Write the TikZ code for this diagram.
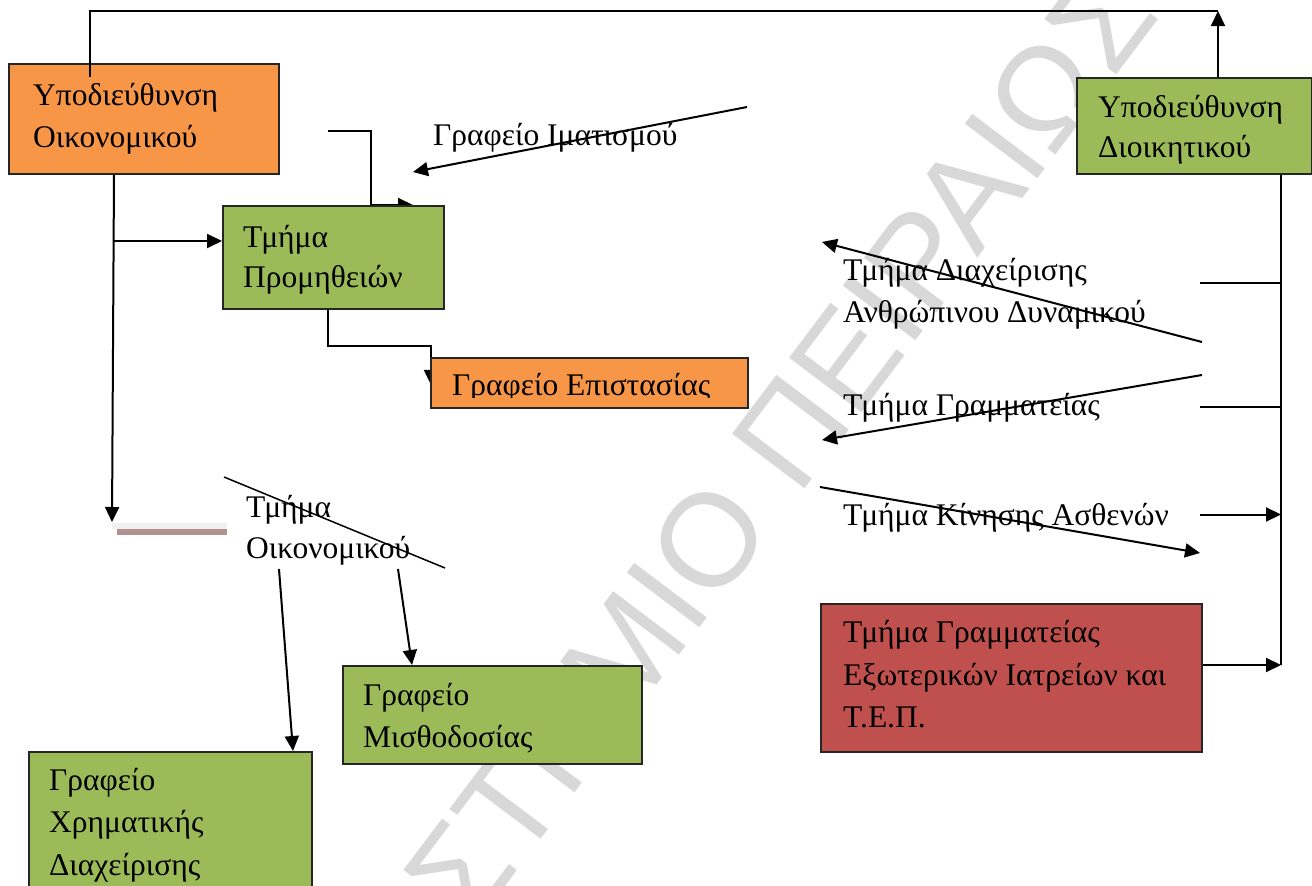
\documentclass[tikz,border=0pt]{standalone}
\usepackage{fontspec}
\setmainfont{Liberation Serif}
\newfontfamily\wmfont{Liberation Sans}
\usetikzlibrary{arrows.meta,calc}
\pgfdeclarelayer{background}
\pgfsetlayers{background,main}
\definecolor{offorange}{HTML}{F79646}
\definecolor{offgreen}{HTML}{9BBB59}
\definecolor{offred}{HTML}{C0504D}
\definecolor{wmgray}{HTML}{D8D8D8}
\definecolor{barpink}{HTML}{B39191}
\definecolor{barlight}{HTML}{F0F0F0}
\begin{document}
\begin{tikzpicture}[x=1pt,y=-1pt,
  box/.style={draw=black!85, line width=1.8pt, inner sep=0pt, anchor=north west},
  lbl/.style={anchor=base west, inner sep=0pt, font=\fontsize{31.5}{38}\selectfont},
  conn/.style={line width=2pt, draw=black},
  arr/.style={conn, -{Triangle[length=15pt,width=14pt]}},
  thinln/.style={line width=1.4pt, draw=black},
  wm/.style={font=\wmfont\fontsize{132}{132}\selectfont, text=wmgray, inner sep=0pt}]
\useasboundingbox (0,0) rectangle (1312,886);

% boxes
\node[box, fill=offorange, minimum width=270pt, minimum height=110pt] (oik) at (8,63) {};
\node[box, fill=offgreen, minimum width=235pt, minimum height=96pt] (dioik) at (1076,77) {};
\node[box, fill=offgreen, minimum width=221pt, minimum height=103pt] (prom) at (222,205) {};
\node[box, fill=offorange, minimum width=317pt, minimum height=50pt] (epist) at (430,357) {};
\node[box, fill=offgreen, minimum width=299pt, minimum height=98pt] (misth) at (342,665) {};
\node[box, fill=offgreen, minimum width=283pt, minimum height=150pt] (xrim) at (28,751) {};
\node[box, fill=offred, minimum width=381pt, minimum height=148pt] (tep) at (820,603) {};

% box texts
\node[lbl] (oikA) at (33,105) {Υποδιεύθυνση};
\node[lbl] (oikB) at (33,147) {Οικονομικού};
\node[lbl] (dioikA) at (1098,117) {Υποδιεύθυνση};
\node[lbl] (dioikB) at (1098,157) {Διοικητικού};
\node[lbl] (promA) at (243,247) {Τμήμα};
\node[lbl] (promB) at (243,287) {Προμηθειών};
\begin{scope}
\clip (430,357) rectangle (747,397);
\node[lbl] (epistA) at (452,395) {Γραφείο Επιστασίας};
\end{scope}
\node[lbl] (misthA) at (363,705) {Γραφείο};
\node[lbl] (misthB) at (363,747) {Μισθοδοσίας};
\node[lbl] (xrimA) at (49,790) {Γραφείο};
\node[lbl] (xrimB) at (49,832) {Χρηματικής};
\node[lbl] (xrimC) at (49,875) {Διαχείρισης};
\node[lbl] (tepA) at (843,642) {Τμήμα Γραμματείας};
\node[lbl] (tepB) at (843,685) {Εξωτερικών Ιατρείων και};
\node[lbl] (tepC) at (843,727) {Τ.Ε.Π.};

% free labels
\node[lbl] (imat) at (433,145) {Γραφείο Ιματισμού};
\node[lbl] (diaxA) at (843,280) {Τμήμα Διαχείρισης};
\node[lbl] (diaxB) at (843,322) {Ανθρώπινου Δυναμικού};
\node[lbl] (gram) at (843,415) {Τμήμα Γραμματείας};
\node[lbl] (kin) at (843,525) {Τμήμα Κίνησης Ασθενών};
\node[lbl] (toikA) at (246,517) {Τμήμα};
\node[lbl] (toikB) at (246,558) {Οικονομικού};

% coordinates
\coordinate (topL) at (90,11);
\coordinate (topR) at (1218,11);
\coordinate (d1) at (112,522);
\coordinate (j1) at (112.7,241);
\coordinate (c3) at (328,131);
\coordinate (c3t) at (413,205);
\coordinate (imS) at (747,107);
\coordinate (imE) at (413,172);
\coordinate (e1) at (431,346);
\coordinate (dA) at (1202,342);
\coordinate (dB) at (822,242);
\coordinate (gA) at (1202,375);
\coordinate (gB) at (822,440);
\coordinate (kA) at (820,487);
\coordinate (kB) at (1200,553);
\coordinate (vB) at (1281,665);
\coordinate (h1) at (1200,283);
\coordinate (h2) at (1200,407);
\coordinate (h3) at (1200,514.5);
\coordinate (sA) at (224,477);
\coordinate (sB) at (445,568);
\coordinate (x1) at (279,569);
\coordinate (m1) at (398,569);

\begin{pgfonlayer}{background}
\node[wm, rotate=53] (wmark) at (630,645) {ΠΑΝΕΠΙΣΤΗΜΙΟ ΠΕΙΡΑΙΩΣ};
\draw[arr] ($(prom.south west)+(106,0)$) |- (e1) -- ($(epist.west)+(1,2)$);
\draw[arr] (c3) -| ($(prom.north west)+(149,0)$) -- (c3t |- prom.north);
\end{pgfonlayer}

% connectors
\draw[conn] ($(topL |- oik.north)+(0,14)$) -- (topL) -- (topR);
\draw[arr] (topR |- dioik.north) -- (topR);
\draw[arr] ($(oik.south west)+(106,0)$) -- (d1);
\draw[arr] (j1) -- (j1 -| prom.west);
\draw[arr] (imS) -- (imE);

\draw[arr] (dA) -- (dB);
\draw[arr] (gA) -- (gB);
\draw[arr] (kA) -- (kB);
\draw[thinln] (vB |- dioik.south) -- (vB);
\draw[thinln] (h1) -- (h1 -| vB);
\draw[thinln] (h2) -- (h2 -| vB);
\draw[arr] (h3) -- (h3 -| vB);
\draw[arr] (vB -| tep.east) -- (vB);

\fill[barlight] (112,523) rectangle (227,529);
\fill[barpink] (117,529) rectangle (227,535);
\draw[conn, line width=1.5pt] (sA) -- (sB);
\draw[arr] (x1) -- ($(xrim.north west)+(265,0)$);
\draw[arr] (m1) -- ($(misth.north west)+(70,0)$);
\end{tikzpicture}
\end{document}
